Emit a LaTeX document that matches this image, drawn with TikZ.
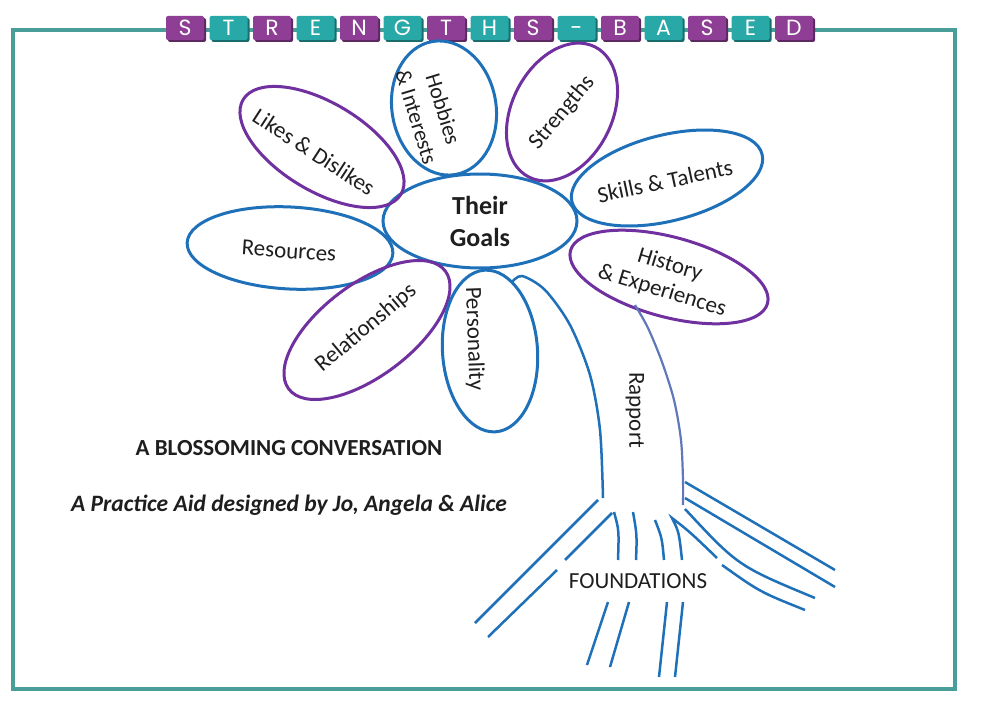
\documentclass[tikz,border=0pt]{standalone}
\usepackage{fontspec}
\setmainfont{Carlito}
\newfontfamily\tilefont{Poppins}
\usetikzlibrary{shapes.geometric}

\definecolor{petalblue}{RGB}{30,112,184}
\definecolor{petalpurple}{RGB}{112,48,160}
\definecolor{stemgrey}{RGB}{95,120,185}
\definecolor{frameteal}{RGB}{74,158,154}
\definecolor{tilepurple}{RGB}{142,62,148}
\definecolor{tileteal}{RGB}{40,168,166}
\definecolor{inktext}{RGB}{30,30,30}

\tikzset{
  petal/.style={ellipse, draw, line width=3pt, inner sep=0pt},
  bluepetal/.style={petal, draw=petalblue},
  purplepetal/.style={petal, draw=petalpurple},
  lbl/.style={font=\fontsize{23}{27}\selectfont, align=center, text=inktext, inner sep=0pt},
  root/.style={draw=petalblue, line width=2.5pt},
  tilebox/.style={minimum width=38pt, minimum height=24pt, inner sep=0pt, rounded corners=2pt,
    text=white, text height=15pt, text depth=0pt, font=\tilefont\fontsize{22}{22}\selectfont},
}

\begin{document}
\begin{tikzpicture}[x=1pt, y=-1pt]
\useasboundingbox (0,0) rectangle (990,701);

% frame
\draw[frameteal, line width=4.5pt] (13,30) rectangle (955,689);

% header tiles
\foreach \l [count=\i from 0] in {S,T,R,E,N,G,T,H,S,-,B,A,S,E,D}{
  \pgfmathsetmacro\xc{185+43.5*\i}
  \ifodd\i \def\tc{tileteal}\else\def\tc{tilepurple}\fi
  \fill[\tc!65!black, rounded corners=2pt] (\xc-17,18) rectangle (\xc+21,42);
  \node[tilebox, fill=\tc] (tile\i) at (\xc,28) {\l};
}

% centre
\node[bluepetal, minimum width=194pt, minimum height=94pt,
      font=\bfseries\fontsize{26}{32}\selectfont, align=center, text=inktext] (goals) at (480,221) {Their\\Goals};

% petals
\node[bluepetal, rotate=-80, minimum width=135pt, minimum height=104pt] (hobbies) at (444,108) {};
\node[lbl, rotate=-73, font=\fontsize{22}{28}\selectfont] (hobbiesT) at (430,113) {Hobbies\\\& Interests};

\node[purplepetal, rotate=63, minimum width=146pt, minimum height=100pt] (strengths) at (562,112) {};
\node[lbl, rotate=50] (strengthsT) at (562,113) {Strengths};

\node[bluepetal, rotate=14, minimum width=196pt, minimum height=86pt] (skills) at (667,178) {};
\node[lbl, rotate=12] (skillsT) at (665,181) {Skills \& Talents};

\node[purplepetal, rotate=-15, minimum width=204pt, minimum height=80pt] (history) at (669,277) {};
\node[lbl, rotate=-17] (historyT) at (666,278) {History\\\& Experiences};

\node[purplepetal, rotate=-31, minimum width=184pt, minimum height=88pt] (likes) at (322,147) {};
\node[lbl, rotate=-33] (likesT) at (314,152) {Likes \& Dislikes};

\node[bluepetal, rotate=-3, minimum width=206pt, minimum height=82pt] (resources) at (290,248) {};
\node[lbl, rotate=-4] (resourcesT) at (289,251) {Resources};

\node[purplepetal, rotate=37, minimum width=196pt, minimum height=92pt] (relations) at (367,330) {};
\node[lbl, rotate=40] (relationsT) at (366,328) {Relationships};

\node[bluepetal, rotate=-86, minimum width=162pt, minimum height=95pt] (personality) at (490,351) {};
\node[lbl, rotate=-88] (personalityT) at (474,339) {Personality};

% stem
\draw[root] plot[smooth] coordinates {(511,283) (522,276) (545,290) (570,325) (590,375) (600,430) (603,498)};
\draw[draw=stemgrey, line width=2.2pt] plot[smooth] coordinates {(635,305) (648,328) (662,362) (674,400) (681,440) (683,480) (683,505)};
\node[lbl, rotate=-90] (rapport) at (635,410) {Rapport};

% roots
\draw[root] (598,500) -- (475,623);
\draw[root] (612,513) -- (565,560);
\draw[root] (557,570) -- (488,637);
\draw[root] (614,512) .. controls (619,530) .. (618,560);
\draw[root] (633,512) .. controls (637,535) .. (636,560);
\draw[root] (655,520) .. controls (662,538) .. (664,560);
\draw[root] (682,560) .. controls (679,532) .. (672,518) .. controls (690,532) .. (717,558);
\draw[root] (722,565) .. controls (760,592) .. (805,610);
\draw[root] (685,509) .. controls (738,566) .. (815,598);
\draw[root] (685,482) -- (835,570);
\draw[root] (685,498) -- (835,587);
\draw[root] (608,602) -- (587,665);
\draw[root] (629,602) -- (610,667);
\draw[root] (667,602) -- (659,677);
\draw[root] (683,602) -- (675,677);
\node[lbl] (found) at (638,581) {FOUNDATIONS};

% captions
\node[font=\bfseries\fontsize{23}{27}\selectfont, text=inktext] (title) at (289,448) {A BLOSSOMING CONVERSATION};
\node[font=\bfseries\itshape\fontsize{23.5}{27}\selectfont, text=inktext] (credit) at (289,505) {A Practice Aid designed by Jo, Angela \& Alice};
\end{tikzpicture}
\end{document}
